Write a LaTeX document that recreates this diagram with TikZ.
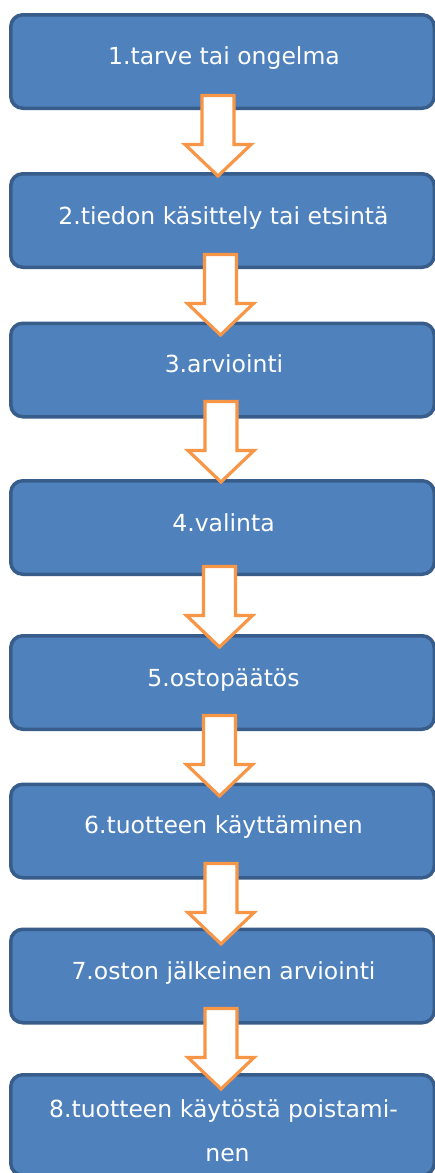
\documentclass[tikz,border=0pt]{standalone}
\usepackage{fontspec}
\setmainfont{DejaVu Sans}
\usetikzlibrary{calc}
\definecolor{boxfill}{HTML}{4F81BD}
\definecolor{boxline}{HTML}{385D8A}
\definecolor{arrline}{HTML}{F79646}
\tikzset{
  stepbox/.style={rectangle, rounded corners=12pt, draw=boxline, fill=boxfill,
    line width=3.5pt, minimum width=423.5pt, minimum height=93.5pt, inner sep=0pt},
  steptext/.style={anchor=base, text=white, inner sep=0pt,
    font=\fontsize{23.5pt}{44pt}\selectfont},
  blockarrow/.style={draw=arrline, fill=white, line width=3.2pt, line join=miter}
}
\newcommand\barrow[1]{%
  \draw[blockarrow] ($(#1)+(-16,0)$) -- ($(#1)+(16,0)$) -- ($(#1)+(16,49)$)
    -- ($(#1)+(33,49)$) -- ($(#1)+(0,80.5)$) -- ($(#1)+(-33,49)$)
    -- ($(#1)+(-16,49)$) -- cycle;}
\begin{document}
\begin{tikzpicture}[x=1pt,y=-1pt]
\useasboundingbox (0,0) rectangle (435,1173);
\fill[white] (0,0) rectangle (435,1173);
% boxes
\node[stepbox] (b1) at (222.5,61.5) {};
\node[stepbox] (b2) at (222.5,220.5) {};
\node[stepbox] (b3) at (222.5,370) {};
\node[stepbox] (b4) at (222.5,527.5) {};
\node[stepbox] (b5) at (222.5,682.5) {};
\node[stepbox] (b6) at (222.5,831) {};
\node[stepbox] (b7) at (222.5,976) {};
\node[stepbox, minimum height=100.5pt] (b8) at (222.5,1125) {};
% texts
\node[steptext] (l1) at ($(b1.north)+(1.5,51)$) {1.tarve tai ongelma};
\node[steptext] (l2) at ($(b2.north)+(1,52)$) {2.tiedon käsittely tai etsintä};
\node[steptext] (l3) at ($(b3.north)+(1.5,51)$) {3.arviointi};
\node[steptext] (l4) at ($(b4.north)+(1,52)$) {4.valinta};
\node[steptext] (l5) at ($(b5.north)+(1,52)$) {5.ostopäätös};
\node[steptext] (l6) at ($(b6.north)+(1,51)$) {6.tuotteen käyttäminen};
\node[steptext] (l7) at ($(b7.north)+(1,52)$) {7.oston jälkeinen arviointi};
\node[steptext] (l8) at ($(b8.north)+(1,44)$) {8.tuotteen käytöstä poistami-};
\node[steptext] (l8b) at ($(l8.base)+(4,44)$) {nen};
% arrows
\coordinate (a1) at (218,95.5);
\coordinate (a2) at (220.5,254.5);
\coordinate (a3) at (221,401.5);
\coordinate (a4) at (219.5,566.5);
\coordinate (a5) at (219.5,715.5);
\coordinate (a6) at (221,863.5);
\coordinate (a7) at (221,1008.5);
\barrow{a1}
\barrow{a2}
\barrow{a3}
\barrow{a4}
\barrow{a5}
\barrow{a6}
\barrow{a7}
\end{tikzpicture}
\end{document}
